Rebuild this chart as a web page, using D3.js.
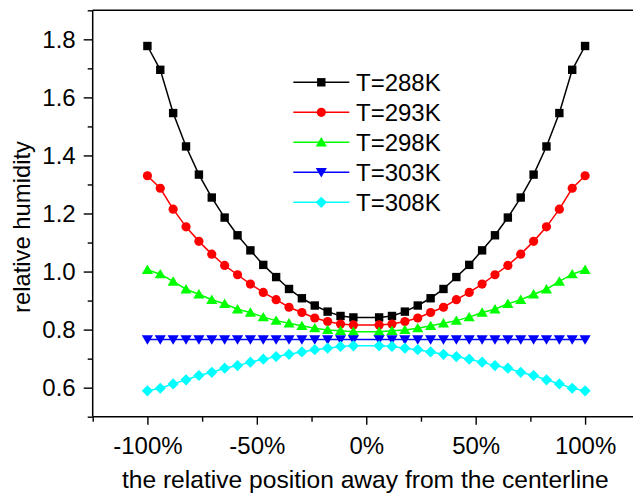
<!DOCTYPE html>
<html>
<head>
<meta charset="utf-8">
<script src="https://cdn.jsdelivr.net/npm/d3@7"></script>
<style>
html,body{margin:0;padding:0;background:#fff;}
svg{display:block;}
text{font-family:"Liberation Sans",Arial,sans-serif;fill:#000;}
</style>
</head>
<body>
<svg id="chart" width="633" height="494"></svg>
<script>
// ---- data ----
const positions = [-100, -94.12, -88.24, -82.35, -76.47, -70.59, -64.71, -58.82, -52.94, -47.06, -41.18, -35.29, -29.41, -23.53, -17.65, -11.76, -5.88,
                   5.88, 11.76, 17.65, 23.53, 29.41, 35.29, 41.18, 47.06, 52.94, 58.82, 64.71, 70.59, 76.47, 82.35, 88.24, 94.12, 100];
const seriesNames = ["T=288K", "T=293K", "T=298K", "T=303K", "T=308K"];
const t288 = [1.777, 1.695, 1.546, 1.431, 1.334, 1.255, 1.186, 1.125, 1.073, 1.023, 0.981, 0.940, 0.908, 0.883, 0.862, 0.847, 0.842,
              0.842, 0.847, 0.862, 0.883, 0.908, 0.940, 0.981, 1.023, 1.073, 1.125, 1.186, 1.255, 1.334, 1.431, 1.546, 1.695, 1.777];
const t293 = [1.330, 1.287, 1.215, 1.154, 1.104, 1.060, 1.021, 0.989, 0.957, 0.928, 0.903, 0.877, 0.859, 0.840, 0.828, 0.819, 0.816,
              0.816, 0.819, 0.828, 0.840, 0.859, 0.877, 0.903, 0.928, 0.957, 0.989, 1.021, 1.060, 1.104, 1.154, 1.215, 1.287, 1.330];
const t298 = [1.006, 0.991, 0.966, 0.939, 0.922, 0.903, 0.889, 0.870, 0.859, 0.843, 0.831, 0.822, 0.813, 0.805, 0.799, 0.796, 0.793,
              0.793, 0.796, 0.799, 0.805, 0.813, 0.822, 0.831, 0.843, 0.859, 0.870, 0.889, 0.903, 0.922, 0.939, 0.966, 0.991, 1.006];
const t303 = [0.766, 0.766, 0.766, 0.766, 0.766, 0.766, 0.766, 0.766, 0.766, 0.766, 0.766, 0.766, 0.766, 0.766, 0.766, 0.766, 0.766,
              0.766, 0.766, 0.766, 0.766, 0.766, 0.766, 0.766, 0.766, 0.766, 0.766, 0.766, 0.766, 0.766, 0.766, 0.766, 0.766, 0.766];
const t308 = [0.589, 0.598, 0.613, 0.627, 0.642, 0.653, 0.667, 0.676, 0.688, 0.698, 0.707, 0.715, 0.723, 0.731, 0.736, 0.742, 0.744,
              0.744, 0.742, 0.736, 0.731, 0.723, 0.715, 0.707, 0.698, 0.688, 0.676, 0.667, 0.653, 0.642, 0.627, 0.613, 0.598, 0.589];
const yTickValues = [0.6, 0.8, 1.0, 1.2, 1.4, 1.6, 1.8];
const yMinorValues = [0.5, 0.7, 0.9, 1.1, 1.3, 1.5, 1.7, 1.9];
const xTickValues = [-100, -50, 0, 50, 100];
const xMinorValues = [-125, -75, -25, 25, 75, 125];
const xTitle = "the relative position away from the centerline";
const yTitle = "relative humidity";

// ---- styling ----
const colors = ["#000000", "#ff0000", "#00ff00", "#0000ff", "#00ffff"];
const shapes = ["square", "circle", "triangleUp", "triangleDown", "diamond"];
const seriesValues = [t288, t293, t298, t303, t308];

const svg = d3.select("#chart");
const pLeft = 92.7, pRight = 639.8, pTop = 10.3, pBottom = 416.7;

const x = d3.scaleLinear().domain([-125, 125]).range([pLeft, pRight]);
const y = d3.scaleLinear().domain([0.5, 1.9]).range([pBottom, pTop]);

function markerPath(shape) {
  switch (shape) {
    case "square": return "M-4.2,-4.2H4.2V4.2H-4.2Z";
    case "circle": return "M-4.6,0A4.6,4.6 0 1,0 4.6,0A4.6,4.6 0 1,0 -4.6,0Z";
    case "triangleUp": return "M0,-5.2L5.6,4.2L-5.6,4.2Z";
    case "triangleDown": return "M0,5.2L5.6,-4.2L-5.6,-4.2Z";
    case "diamond": return "M0,-5.6L5.6,0L0,5.6L-5.6,0Z";
  }
}

// axes
const fontTick = "24px";
const gx = svg.append("g").attr("transform", `translate(0,${pBottom})`)
  .call(d3.axisBottom(x).tickValues(xTickValues).tickFormat(d => d + "%").tickSize(8).tickPadding(12).tickSizeOuter(0));
const gxm = svg.append("g").attr("transform", `translate(0,${pBottom})`)
  .call(d3.axisBottom(x).tickValues(xMinorValues).tickFormat("").tickSize(5).tickSizeOuter(0));
const gy = svg.append("g").attr("transform", `translate(${pLeft},0)`)
  .call(d3.axisLeft(y).tickValues(yTickValues).tickFormat(d3.format(".1f")).tickSize(9).tickPadding(8).tickSizeOuter(0));
const gym = svg.append("g").attr("transform", `translate(${pLeft},0)`)
  .call(d3.axisLeft(y).tickValues(yMinorValues).tickFormat("").tickSize(5).tickSizeOuter(0));
[gx, gxm, gy, gym].forEach(g => {
  g.select(".domain").remove();
  g.selectAll("line").attr("stroke", "#000").attr("stroke-width", 1.4);
  g.selectAll("text").style("font-size", fontTick).attr("font-family", "Liberation Sans, Arial, sans-serif");
});

// frame
svg.append("line").attr("x1", pLeft).attr("x2", pLeft).attr("y1", pTop).attr("y2", pBottom).attr("stroke", "#000").attr("stroke-width", 1.5);
svg.append("line").attr("x1", pLeft).attr("x2", pRight).attr("y1", pBottom).attr("y2", pBottom).attr("stroke", "#000").attr("stroke-width", 1.5);
svg.append("line").attr("x1", pLeft).attr("x2", pRight).attr("y1", pTop).attr("y2", pTop).attr("stroke", "#000").attr("stroke-width", 1.5);
svg.append("line").attr("x1", pRight).attr("x2", pRight).attr("y1", pTop).attr("y2", pBottom).attr("stroke", "#000").attr("stroke-width", 1.5);

// titles
svg.append("text").attr("x", x(0) - 1).attr("y", 488).attr("text-anchor", "middle")
  .style("font-size", "24.6px").text(xTitle);
svg.append("text").attr("transform", `translate(30,227) rotate(-90)`).attr("text-anchor", "middle")
  .style("font-size", "23.8px").text(yTitle);

// series
const line = d3.line().x(d => x(d[0])).y(d => y(d[1]));
seriesValues.forEach((vals, i) => {
  const pts = positions.map((p, j) => [p, vals[j]]);
  const g = svg.append("g");
  g.append("path").datum(pts).attr("d", line).attr("fill", "none").attr("stroke", colors[i]).attr("stroke-width", 1.5);
  g.selectAll("path.m").data(pts).enter().append("path").attr("class", "m")
    .attr("d", markerPath(shapes[i]))
    .attr("transform", d => `translate(${x(d[0])},${y(d[1])})`)
    .attr("fill", colors[i]);
});

// legend
const legX1 = 293.3, legX2 = 349.3, legY0 = 82.3, legDy = 30;
seriesNames.forEach((name, i) => {
  const yy = legY0 + i * legDy;
  svg.append("line").attr("x1", legX1).attr("x2", legX2).attr("y1", yy).attr("y2", yy)
    .attr("stroke", colors[i]).attr("stroke-width", 1.5);
  svg.append("path").attr("d", markerPath(shapes[i])).attr("transform", `translate(${(legX1 + legX2) / 2},${yy})`)
    .attr("fill", colors[i]);
  svg.append("text").attr("x", 356).attr("y", yy).attr("dy", "0.36em").style("font-size", "24px").text(name);
});
</script>
</body>
</html>
